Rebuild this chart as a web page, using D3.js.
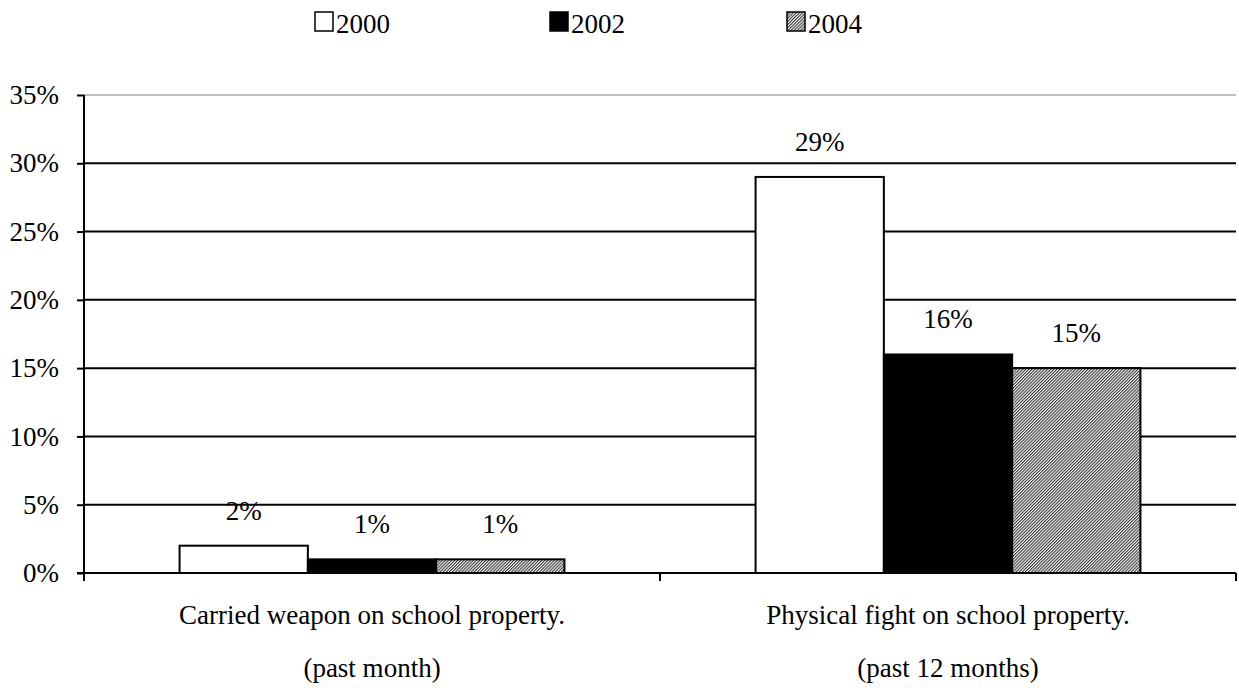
<!DOCTYPE html>
<html>
<head>
<meta charset="utf-8">
<script src="https://cdnjs.cloudflare.com/ajax/libs/d3/7.8.5/d3.min.js"></script>
<style>
  body { margin: 0; background: #fff; }
  svg text { font-family: "Liberation Serif", "Times New Roman", serif; fill: #000; }
</style>
</head>
<body>
<div class="chart"></div>
<script>
var categories = ['Carried weapon on school property.', 'Physical fight on school property.'];
var subLabels = ['(past month)', '(past 12 months)'];
var years = ['2000', '2002', '2004'];
var values2000 = [2, 29];
var values2002 = [1, 16];
var values2004 = [1, 15];
var yTicks = [0, 5, 10, 15, 20, 25, 30, 35];

var width = 1239, height = 688;
var margin = { left: 84, right: 3, top: 95, bottom: 115 };
var fontSize = 27;

var svg = d3.select('.chart').append('svg')
	.attr('width', width)
	.attr('height', height);

// fine hatch fill for 2004
var pat = svg.append('defs').append('pattern')
	.attr('id', 'hatch')
	.attr('patternUnits', 'userSpaceOnUse')
	.attr('width', 2.2)
	.attr('height', 2.2)
	.attr('patternTransform', 'rotate(45)');
pat.append('rect').attr('width', 2.2).attr('height', 2.2).attr('fill', '#fff');
pat.append('rect').attr('width', 1.1).attr('height', 2.2).attr('fill', '#333');

var fills = { '2000': '#fff', '2002': '#000', '2004': 'url(#hatch)' };

var x0 = d3.scaleBand()
	.domain(categories)
	.range([margin.left, width - margin.right])
	.paddingInner(0)
	.paddingOuter(0);

var x1 = d3.scaleBand()
	.domain(years)
	.range([0, x0.bandwidth()])
	.paddingOuter(0.745);

var y = d3.scaleLinear()
	.domain([0, 35])
	.range([height - margin.bottom, margin.top]);

// gridlines
svg.append('g').selectAll('line')
	.data(yTicks.filter(function(d) { return d > 0; }))
	.enter().append('line')
	.attr('x1', margin.left)
	.attr('x2', width - margin.right)
	.attr('y1', function(d) { return y(d); })
	.attr('y2', function(d) { return y(d); })
	.attr('stroke', function(d) { return d === 35 ? '#c0c0c0' : '#000'; })
	.attr('stroke-width', 2);

// y axis
var yAxis = svg.append('g')
	.attr('transform', 'translate(' + margin.left + ',0)')
	.call(d3.axisLeft(y).tickValues(yTicks).tickSize(7).tickPadding(18)
		.tickFormat(function(d) { return d + '%'; }));
yAxis.attr('font-family', null).attr('font-size', null);
yAxis.select('.domain').attr('stroke', '#000').attr('stroke-width', 2).attr('d', 'M0,' + y(35) + 'V' + y(0));
yAxis.selectAll('.tick line').attr('stroke', '#000').attr('stroke-width', 2);
yAxis.selectAll('.tick text').attr('font-size', fontSize).attr('dy', '0.32em');

// bars
var series = [values2000, values2002, values2004];
var groups = svg.append('g').selectAll('g')
	.data(categories)
	.enter().append('g')
	.attr('transform', function(d) { return 'translate(' + x0(d) + ',0)'; });

var rows = function(d, i) {
	return years.map(function(yr, j) { return { year: yr, value: series[j][i] }; });
};

groups.selectAll('rect')
	.data(rows)
	.enter().append('rect')
	.attr('x', function(d) { return x1(d.year); })
	.attr('width', x1.bandwidth())
	.attr('y', function(d) { return y(d.value); })
	.attr('height', function(d) { return y(0) - y(d.value); })
	.attr('fill', function(d) { return fills[d.year]; })
	.attr('stroke', '#000')
	.attr('stroke-width', 2);

groups.selectAll('text.val')
	.data(rows)
	.enter().append('text')
	.attr('class', 'val')
	.attr('x', function(d) { return x1(d.year) + x1.bandwidth() / 2; })
	.attr('y', function(d) { return y(d.value) - 26; })
	.attr('text-anchor', 'middle')
	.attr('font-size', fontSize)
	.text(function(d) { return d.value + '%'; });

// x axis
var xAxisY = y(0);
svg.append('line')
	.attr('x1', margin.left - 7).attr('x2', width - margin.right)
	.attr('y1', xAxisY).attr('y2', xAxisY)
	.attr('stroke', '#000').attr('stroke-width', 2);
svg.append('g').selectAll('line')
	.data([0, 1, 2])
	.enter().append('line')
	.attr('x1', function(d) { return margin.left + d * x0.bandwidth(); })
	.attr('x2', function(d) { return margin.left + d * x0.bandwidth(); })
	.attr('y1', xAxisY).attr('y2', xAxisY + 8)
	.attr('stroke', '#000').attr('stroke-width', 2);

var catLabels = svg.append('g').selectAll('g')
	.data(categories)
	.enter().append('g')
	.attr('transform', function(d) { return 'translate(' + (x0(d) + x0.bandwidth() / 2) + ',0)'; });
catLabels.append('text')
	.attr('y', 624).attr('text-anchor', 'middle').attr('font-size', fontSize)
	.text(function(d) { return d; });
catLabels.append('text')
	.attr('y', 677).attr('text-anchor', 'middle').attr('font-size', fontSize)
	.text(function(d, i) { return subLabels[i]; });

// legend
var legendX = [315, 550, 787];
var legend = svg.append('g').selectAll('g')
	.data(years)
	.enter().append('g')
	.attr('transform', function(d, i) { return 'translate(' + legendX[i] + ',12)'; });
legend.append('rect')
	.attr('width', 18).attr('height', 19)
	.attr('fill', function(d) { return fills[d]; })
	.attr('stroke', '#000').attr('stroke-width', 1.5);
legend.append('text')
	.attr('x', 21).attr('y', 21).attr('font-size', fontSize)
	.text(function(d) { return d; });
</script>
</body>
</html>
